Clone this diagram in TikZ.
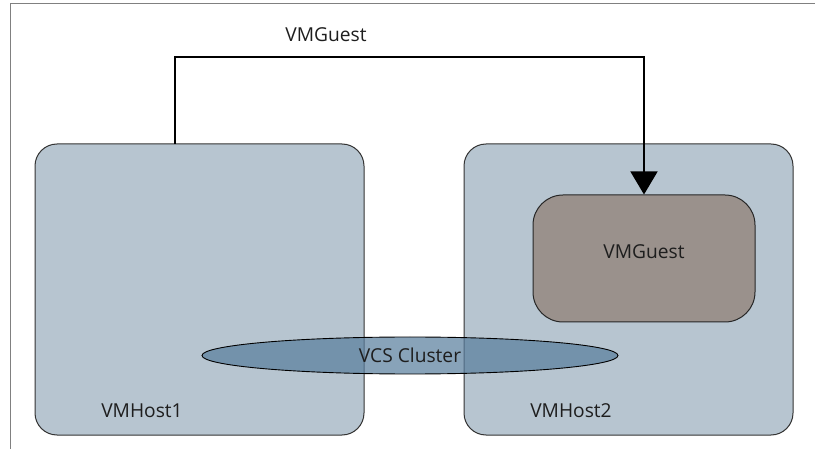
\documentclass[tikz,border=0pt]{standalone}
\usepackage{fontspec}
\setmainfont{Open Sans}
\usetikzlibrary{shapes.geometric,arrows.meta}
\definecolor{hostfill}{HTML}{B7C5D0}
\definecolor{guestfill}{HTML}{9A918C}
\definecolor{clusterfill}{HTML}{5A7F9E}
\definecolor{txt}{HTML}{1E1E1E}
\definecolor{framecol}{HTML}{808080}
\tikzset{
  hostbox/.style={draw=black!80, line width=1pt, fill=hostfill, rounded corners=22pt, minimum width=329pt, minimum height=291pt, inner sep=0pt},
  guestbox/.style={draw=black!85, line width=1pt, fill=guestfill, rounded corners=30pt, minimum width=222pt, minimum height=127pt, inner sep=0pt},
  clusterell/.style={ellipse, draw=black, line width=0.9pt, fill=clusterfill, fill opacity=0.72, minimum width=416pt, minimum height=37pt, inner sep=0pt},
  lbl/.style={text=txt, font=\fontsize{19.2}{21}\selectfont, inner sep=0pt},
  flow/.style={line width=1.5pt, -{Triangle[width=27pt,length=23pt]}}
}
\begin{document}
\begin{tikzpicture}[x=1pt,y=-1pt]
\useasboundingbox (0,0) rectangle (815,449);
\draw[framecol, line width=1pt] (10,449) -- (10,4) -- (815,4);
\node[hostbox] (host1) at (199.5,289.5) {};
\node[hostbox] (host2) at (628.5,289.5) {};
\node[guestbox] (guest) at (644,258.5) {};
\node[clusterell] (cluster) at (410,355.5) {};
\node[lbl] (clusterlbl) at (410,355) {VCS Cluster};
\node[lbl] (guestlbl) at (644,252) {VMGuest};
\node[lbl] (host1lbl) at (142,411) {VMHost1};
\node[lbl] (host2lbl) at (571,411) {VMHost2};
\node[lbl] (toplbl) at (326,35) {VMGuest};
\coordinate (start) at (175,144);
\draw[flow] (start) -- (175,57) -- (644,57) -- (guest.north);
\end{tikzpicture}
\end{document}
